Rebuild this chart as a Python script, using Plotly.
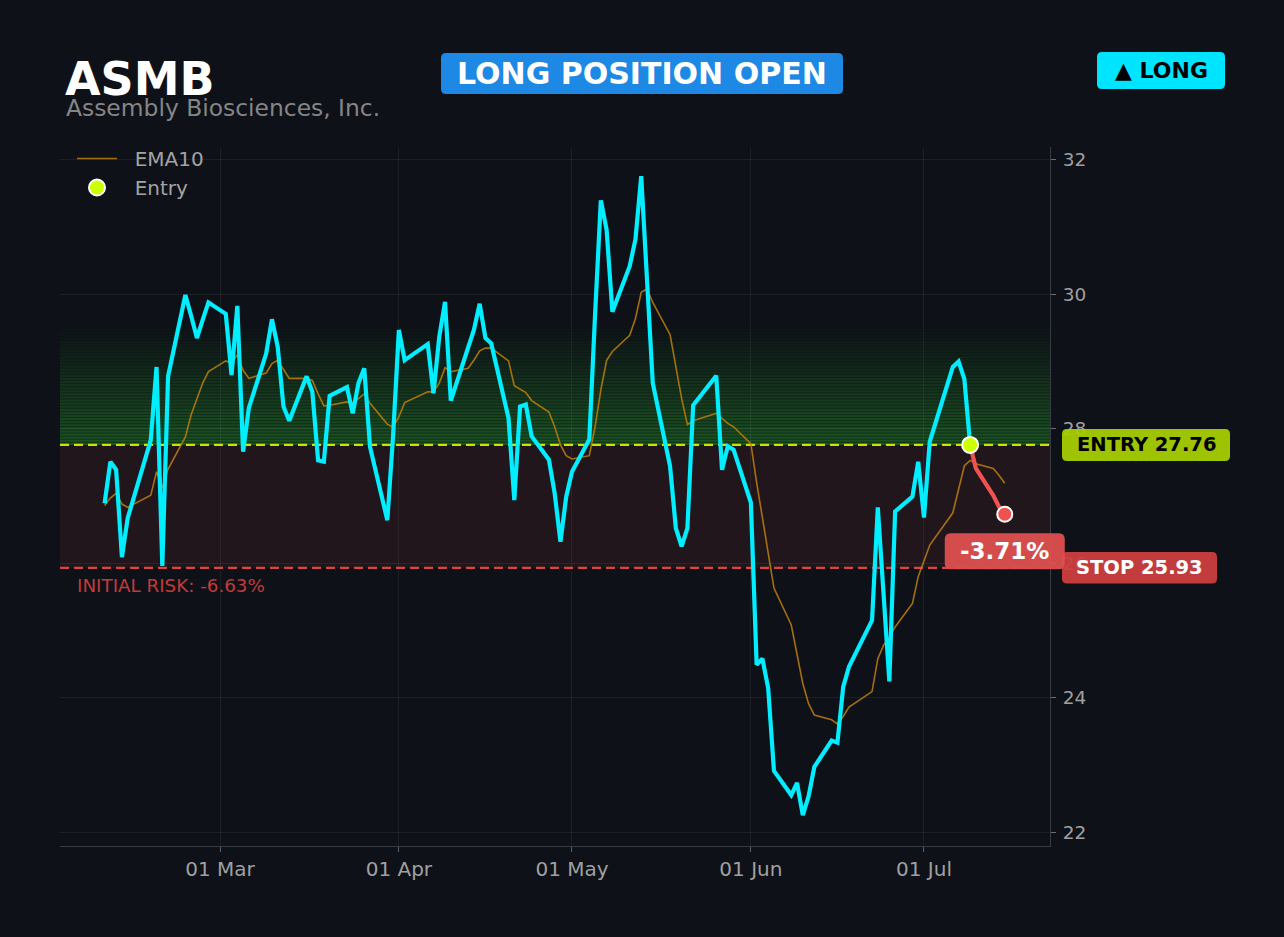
import pandas as pd
import plotly.graph_objects as go

# ---------------- data ----------------
ticker = "ASMB"
company = "Assembly Biosciences, Inc."

dates = [
    "2026-02-09", "2026-02-10", "2026-02-11", "2026-02-12", "2026-02-13",
    "2026-02-17", "2026-02-18", "2026-02-19", "2026-02-20",
    "2026-02-23", "2026-02-24", "2026-02-25", "2026-02-26", "2026-02-27",
    "2026-03-02", "2026-03-03", "2026-03-04", "2026-03-05", "2026-03-06",
    "2026-03-09", "2026-03-10", "2026-03-11", "2026-03-12", "2026-03-13",
    "2026-03-16", "2026-03-17", "2026-03-18", "2026-03-19", "2026-03-20",
    "2026-03-23", "2026-03-24", "2026-03-25", "2026-03-26", "2026-03-27",
    "2026-03-30", "2026-03-31", "2026-04-01", "2026-04-02",
    "2026-04-06", "2026-04-07", "2026-04-08", "2026-04-09", "2026-04-10",
    "2026-04-13", "2026-04-14", "2026-04-15", "2026-04-16", "2026-04-17",
    "2026-04-20", "2026-04-21", "2026-04-22", "2026-04-23", "2026-04-24",
    "2026-04-27", "2026-04-28", "2026-04-29", "2026-04-30", "2026-05-01",
    "2026-05-04", "2026-05-05", "2026-05-06", "2026-05-07", "2026-05-08",
    "2026-05-11", "2026-05-12", "2026-05-13", "2026-05-14", "2026-05-15",
    "2026-05-18", "2026-05-19", "2026-05-20", "2026-05-21", "2026-05-22",
    "2026-05-26", "2026-05-27", "2026-05-28", "2026-05-29",
    "2026-06-01", "2026-06-02", "2026-06-03", "2026-06-04", "2026-06-05",
    "2026-06-08", "2026-06-09", "2026-06-10", "2026-06-11", "2026-06-12",
    "2026-06-15", "2026-06-16", "2026-06-17", "2026-06-18",
    "2026-06-22", "2026-06-23", "2026-06-24", "2026-06-25", "2026-06-26",
    "2026-06-29", "2026-06-30", "2026-07-01", "2026-07-02",
    "2026-07-06", "2026-07-07", "2026-07-08", "2026-07-09", "2026-07-10",
    "2026-07-13", "2026-07-14", "2026-07-15",
]

close = [
    26.89, 27.51, 27.39, 26.09, 26.67,
    27.83, 28.92, 25.96, 28.78,
    29.99, 29.68, 29.35, 29.62, 29.88,
    29.71, 28.80, 29.83, 27.66, 28.31,
    29.12, 29.63, 29.22, 28.33, 28.12,
    28.78, 28.55, 27.53, 27.51, 28.49,
    28.62, 28.23, 28.68, 28.90, 27.73,
    26.64, 27.90, 29.47, 29.02,
    29.26, 28.53, 29.37, 29.89, 28.42,
    29.20, 29.47, 29.86, 29.35, 29.27,
    28.16, 26.94, 28.33, 28.36, 27.89,
    27.54, 27.04, 26.32, 26.99, 27.36,
    27.84, 29.70, 31.40, 30.96, 29.74,
    30.42, 30.82, 31.76, 30.30, 28.68,
    27.44, 26.52, 26.25, 26.52, 28.35,
    28.79, 27.39, 27.74, 27.69,
    26.90, 24.49, 24.58, 24.14, 22.91,
    22.55, 22.73, 22.25, 22.53, 22.97,
    23.36, 23.33, 24.16, 24.46,
    25.15, 26.83, 25.60, 24.24, 26.77,
    26.99, 27.51, 26.68, 27.81,
    28.92, 29.00, 28.74, 27.76, 27.41,
    27.01, 26.84, 26.73,
]

ema10 = [
    26.86, 26.97, 27.04, 26.88, 26.83,
    27.01, 27.36, 27.12, 27.40,
    27.88, 28.21, 28.45, 28.68, 28.85,
    29.01, 28.98, 29.10, 28.87, 28.75,
    28.83, 28.97, 29.02, 28.89, 28.75,
    28.75, 28.72, 28.52, 28.34, 28.35,
    28.40, 28.38, 28.45, 28.52, 28.38,
    28.07, 28.02, 28.18, 28.39,
    28.55, 28.55, 28.68, 28.91, 28.85,
    28.90, 29.02, 29.16, 29.20, 29.20,
    29.01, 28.64, 28.59, 28.54, 28.42,
    28.25, 28.03, 27.76, 27.60, 27.55,
    27.60, 28.03, 28.58, 29.02, 29.15,
    29.39, 29.64, 30.03, 30.08, 29.88,
    29.40, 28.92, 28.45, 28.06, 28.12,
    28.23, 28.16, 28.08, 28.03,
    27.78, 27.20, 26.69, 26.18, 25.63,
    25.08, 24.65, 24.21, 23.91, 23.74,
    23.67, 23.61, 23.72, 23.86,
    24.09, 24.58, 24.78, 24.90, 25.05,
    25.40, 25.80, 26.02, 26.27,
    26.75, 27.11, 27.45, 27.53, 27.48,
    27.41, 27.31, 27.19,
]

entry_date = "2026-07-09"
entry_price = 27.76
stop_price = 25.93
target_price = 29.60
initial_risk_pct = -6.63
pnl_pct = -3.71

y_ticks = [22, 24, 26, 28, 30, 32]

# ---------------- layout geometry ----------------
W, H = 1284, 937
PL, PR, PT, PB = 60, 1050, 147, 846
YMIN, YMAX = 21.792, 32.193
X0 = pd.Timestamp("2026-02-01 06:30")
X1 = pd.Timestamp("2026-07-22 20:10")

BG = "#0e1117"
FONT = "DejaVu Sans"
NBSP = "\u00a0"


def px2x(px):
    return (px - PL) / (PR - PL)


def py2y(py):
    return (PB - py) / (PB - PT)


def xpix(d):
    return PL + (pd.Timestamp(d) - X0) / (X1 - X0) * (PR - PL)


def ypix(v):
    return PT + (YMAX - v) / (YMAX - YMIN) * (PB - PT)


def rrect(x0, y0, x1, y1, r, color, opacity=1.0):
    a, b, c, d = px2x(x0), py2y(y0), px2x(x1), py2y(y1)
    rx, ry = r / (PR - PL), r / (PB - PT)
    path = (f"M {a+rx},{b} L {c-rx},{b} Q {c},{b} {c},{b-ry} L {c},{d+ry} "
            f"Q {c},{d} {c-rx},{d} L {a+rx},{d} Q {a},{d} {a},{d+ry} "
            f"L {a},{b-ry} Q {a},{b} {a+rx},{b} Z")
    return dict(type="path", xref="paper", yref="paper", path=path,
                fillcolor=color, line=dict(width=0), layer="above",
                opacity=opacity)


df = pd.DataFrame({"date": pd.to_datetime(dates), "close": close, "ema": ema10})
ed = pd.Timestamp(entry_date)
pre = df[df["date"] <= ed]
post = df[df["date"] >= ed]
last = df.iloc[-1]

fig = go.Figure()

fig.add_trace(go.Scatter(x=df["date"], y=df["ema"], mode="lines",
                         name=NBSP * 2 + "EMA10",
                         line=dict(color="rgba(190,128,10,0.85)", width=1.6),
                         hoverinfo="skip"))
fig.add_trace(go.Scatter(x=pre["date"], y=pre["close"], mode="lines",
                         line=dict(color="#00eeff", width=4.2), showlegend=False,
                         hoverinfo="skip"))
fig.add_trace(go.Scatter(x=post["date"], y=post["close"], mode="lines",
                         line=dict(color="#ef5350", width=4.2), showlegend=False,
                         hoverinfo="skip"))
fig.add_trace(go.Scatter(x=[ed], y=[entry_price], mode="markers",
                         name=NBSP * 2 + "Entry",
                         marker=dict(color="#ccff00", size=16,
                                     line=dict(color="white", width=2)),
                         hoverinfo="skip"))
fig.add_trace(go.Scatter(x=[last["date"]], y=[last["close"]], mode="markers",
                         marker=dict(color="#ef5350", size=15,
                                     line=dict(color="white", width=2)),
                         showlegend=False, hoverinfo="skip"))

shapes = []
# gradient zone entry -> target (striped bands)
N = 40
step = (target_price - entry_price) / N
for i in range(N):
    a = 0.44 * (1 - i / N) ** 1.1
    shapes.append(dict(type="rect", xref="paper", x0=0, x1=1, yref="y",
                       y0=entry_price + i * step,
                       y1=entry_price + (i + 0.68) * step,
                       fillcolor=f"rgba(42,170,48,{a:.3f})", line=dict(width=0),
                       layer="below"))
    shapes.append(dict(type="rect", xref="paper", x0=0, x1=1, yref="y",
                       y0=entry_price + (i + 0.68) * step,
                       y1=entry_price + (i + 1) * step,
                       fillcolor=f"rgba(42,170,48,{a*0.55:.3f})", line=dict(width=0),
                       layer="below"))
# risk zone
shapes.append(dict(type="rect", xref="paper", x0=0, x1=1, yref="y",
                   y0=stop_price, y1=entry_price,
                   fillcolor="rgba(239,83,80,0.085)", line=dict(width=0),
                   layer="below"))
# entry / stop lines
shapes.append(dict(type="line", xref="paper", x0=0, x1=1, yref="y",
                   y0=entry_price, y1=entry_price,
                   line=dict(color="#c8e600", width=2.2, dash="9px,5px"),
                   layer="between"))
shapes.append(dict(type="line", xref="paper", x0=0, x1=1, yref="y",
                   y0=stop_price, y1=stop_price,
                   line=dict(color="#d94444", width=2.2, dash="9px,5px"),
                   layer="between"))

# badges / labels (rounded boxes)
shapes.append(rrect(441, 53, 843, 94, 5, "#1e88e5"))
shapes.append(rrect(1097, 52, 1225, 89, 5, "#00e5ff"))
ey = ypix(entry_price)
sy = ypix(stop_price)
shapes.append(rrect(1062, ey - 16, 1230, ey + 16, 5, "#a6cf00", 0.95))
shapes.append(rrect(1062, sy - 16, 1217, sy + 15.5, 5, "#cd3f3f", 0.95))
lx, ly = xpix(last["date"]), ypix(last["close"]) + 37
shapes.append(rrect(lx - 60, ly - 18, lx + 60, ly + 18, 6, "#de4f4f", 0.95))

annotations = [
    dict(text=f"<b>{ticker}</b>", x=px2x(63), y=py2y(79), xref="paper", yref="paper",
         xanchor="left", yanchor="middle", showarrow=False,
         font=dict(family=FONT, size=46, color="#ffffff")),
    dict(text=company, x=px2x(64), y=py2y(108.5), xref="paper", yref="paper",
         xanchor="left", yanchor="middle", showarrow=False,
         font=dict(family=FONT, size=23.4, color="#858585")),
    dict(text="<b>LONG POSITION OPEN</b>", x=px2x(642), y=py2y(73.5),
         xref="paper", yref="paper", xanchor="center", yanchor="middle",
         showarrow=False, font=dict(family=FONT, size=30, color="#ffffff")),
    dict(text="<b>▲ LONG</b>", x=px2x(1161), y=py2y(70.5),
         xref="paper", yref="paper", xanchor="center", yanchor="middle",
         showarrow=False, font=dict(family=FONT, size=22, color="#000000")),
    dict(text=f"<b>ENTRY {entry_price:.2f}</b>", x=px2x(1146), y=py2y(ey),
         xref="paper", yref="paper", xanchor="center", yanchor="middle",
         showarrow=False, font=dict(family=FONT, size=19.5, color="#000000")),
    dict(text=f"<b>STOP {stop_price:.2f}</b>", x=px2x(1139.5), y=py2y(sy),
         xref="paper", yref="paper", xanchor="center", yanchor="middle",
         showarrow=False, font=dict(family=FONT, size=19.5, color="#ffffff")),
    dict(text=f"<b>{pnl_pct:+.2f}%</b>", x=px2x(lx), y=py2y(ly),
         xref="paper", yref="paper", xanchor="center", yanchor="middle",
         showarrow=False, font=dict(family=FONT, size=23, color="#ffffff")),
    dict(text=f"INITIAL RISK: {initial_risk_pct:.2f}%", x=px2x(75), y=stop_price,
         xref="paper", yref="y", xanchor="left", yanchor="middle", yshift=-18,
         showarrow=False, font=dict(family=FONT, size=18.3, color="#c23b3b")),
]

fig.update_layout(
    width=W, height=H,
    paper_bgcolor=BG, plot_bgcolor=BG,
    margin=dict(l=PL, r=W - PR, t=PT, b=H - PB, pad=0),
    font=dict(family=FONT, color="#a0a0a0", size=19),
    showlegend=True,
    legend=dict(x=px2x(72), y=py2y(139), xanchor="left", yanchor="top",
                bgcolor="rgba(0,0,0,0)", font=dict(size=20, color="#a3a3a3"),
                itemwidth=40, tracegroupgap=0),
    shapes=shapes,
    annotations=annotations,
    hovermode=False,
)

fig.update_xaxes(
    range=[X0, X1], type="date", dtick="M1", tick0="2026-01-01",
    tickformat="%d %b", showgrid=True, gridcolor="rgba(255,255,255,0.06)",
    gridwidth=1, showline=True, linecolor="#383b43", linewidth=1,
    ticks="outside", ticklen=5, tickcolor="#5a5d65", ticklabelstandoff=0,
    zeroline=False, tickfont=dict(size=20, color="#a0a0a0"),
)
fig.update_yaxes(
    range=[YMIN, YMAX], side="right", tickvals=y_ticks,
    showgrid=True, gridcolor="rgba(255,255,255,0.06)", gridwidth=1,
    showline=True, linecolor="#383b43", linewidth=1,
    ticks="outside", ticklen=5, tickcolor="#6a6d75", ticklabelstandoff=3,
    zeroline=False, tickfont=dict(size=18.5, color="#a0a0a0"),
)

fig.write_html(
    "out.html",
    config={"displayModeBar": False},
    post_script="document.body.style.margin='0';"
                "document.body.style.backgroundColor='#0e1117';",
)
